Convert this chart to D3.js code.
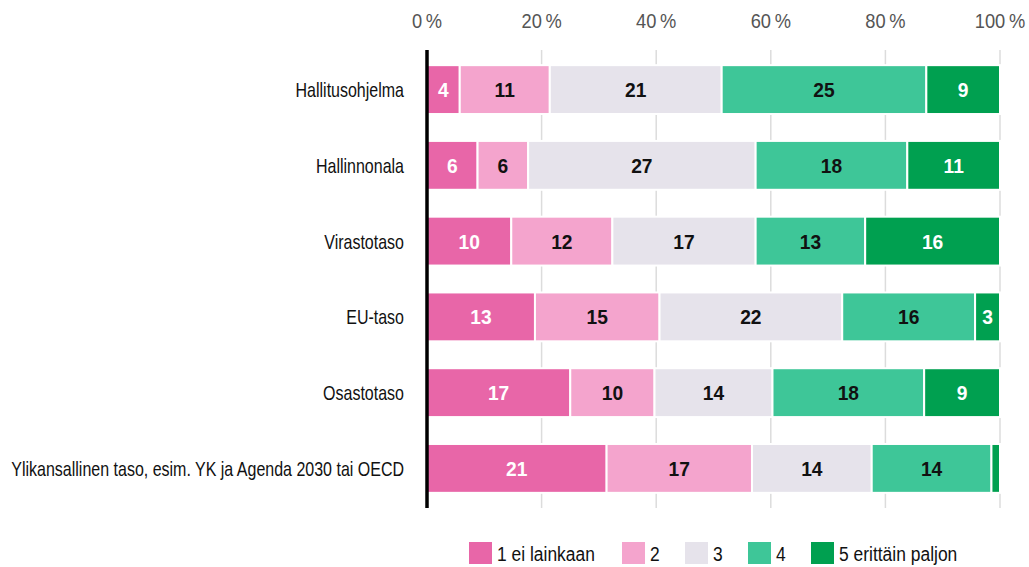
<!DOCTYPE html>
<html>
<head>
<meta charset="utf-8">
<script src="https://cdn.jsdelivr.net/npm/d3@7"></script>
<style>
  body { margin: 0; background: #fff; }
  text { font-family: "Liberation Sans", Arial, sans-serif; }
</style>
</head>
<body>
<script>
// categories, top to bottom
const categories = [
    'Hallitusohjelma',
    'Hallinnonala',
    'Virastotaso',
    'EU-taso',
    'Osastotaso',
    'Ylikansallinen taso, esim. YK ja Agenda 2030 tai OECD'
];

// answer counts per level, one array per series
const level1 = [4, 6, 10, 13, 17, 21];
const level2 = [11, 6, 12, 15, 10, 17];
const level3 = [21, 27, 17, 22, 14, 14];
const level4 = [25, 18, 13, 16, 18, 14];
const level5 = [9, 11, 16, 3, 9, 1];

const seriesNames = ['1 ei lainkaan', '2', '3', '4', '5 erittäin paljon'];
const seriesColors = ['#e866a8', '#f4a4cd', '#e6e3eb', '#3ec698', '#00a050'];
const labelColors = ['#fff', '#111', '#111', '#111', '#fff'];
const tickValues = [0, 0.2, 0.4, 0.6, 0.8, 1];

const width = 1029, height = 567;
const margin = { top: 50, right: 29, bottom: 59, left: 427 };

const svg = d3.select('body').append('svg')
    .attr('width', width)
    .attr('height', height);

// the reference uses a condensed face; squeeze a normal one horizontally
const probe = svg.append('text').style('font-size', '21px').text(categories[5]);
const sx = 393 / probe.node().getComputedTextLength();
probe.remove();
const place = (px, py, f = 1) => `translate(${px},${py}) scale(${sx * f},1)`;

// Build rows as proportions
const series = [level1, level2, level3, level4, level5];
const rows = categories.map((c, i) => {
    const row = { category: c };
    const total = d3.sum(series, s => s[i]);
    series.forEach((s, k) => { row['s' + k] = s[i]; });
    series.forEach((s, k) => { row['p' + k] = s[i] / total; });
    return row;
});

const x = d3.scaleLinear()
    .domain([0, 1])
    .range([margin.left, width - margin.right]);

const y = d3.scaleBand()
    .domain(categories)
    .range([margin.top, height - margin.bottom])
    .paddingInner(0.355)
    .paddingOuter(0.2);

// Gridlines
svg.append('g')
    .selectAll('line')
    .data(tickValues.slice(1))
    .enter().append('line')
    .attr('x1', d => x(d)).attr('x2', d => x(d))
    .attr('y1', margin.top).attr('y2', height - margin.bottom)
    .attr('stroke', '#dcdcdc')
    .attr('stroke-width', 1.5);

// Top axis labels
const xAxis = d3.axisTop(x)
    .tickValues(tickValues)
    .tickFormat(d => Math.round(d * 100) + '\u2009%')
    .tickSize(0)
    .tickPadding(0);
const ax = svg.append('g')
    .call(xAxis);
ax.select('.domain').remove();
ax.selectAll('.tick').attr('transform', null);
ax.selectAll('.tick text')
    .attr('y', null).attr('dy', null)
    .attr('transform', d => place(x(d), 28, 1.2))
    .attr('fill', '#555')
    .style('font-size', '20px');

const stack = d3.stack()
    .keys(seriesNames.map((_, k) => 'p' + k));
const stacked = stack(rows);

const groups = svg.append('g')
    .selectAll('g')
    .data(stacked)
    .enter().append('g')
    .attr('fill', (d, k) => seriesColors[k]);

groups.selectAll('rect')
    .data(d => d)
    .enter().append('rect')
    .attr('x', d => x(d[0]))
    .attr('y', d => y(d.data.category))
    .attr('width', d => Math.max(0, x(d[1]) - x(d[0])))
    .attr('height', y.bandwidth())
    .attr('stroke', '#fff')
    .attr('stroke-width', 2);

// Value labels (skip tiny segments)
groups.each(function(s, k) {
    d3.select(this).selectAll('text')
        .data(s.filter(d => d.data['s' + k] > 1))
        .enter().append('text')
        .attr('transform', d => place((x(d[0]) + x(d[1])) / 2, y(d.data.category) + y.bandwidth() / 2, 1.2))
        .attr('dy', '0.36em')
        .attr('text-anchor', 'middle')
        .attr('fill', labelColors[k])
        .style('font-size', '21px')
        .style('font-weight', 'bold')
        .text(d => d.data['s' + k]);
});

// Category labels
svg.append('g')
    .selectAll('text')
    .data(categories)
    .enter().append('text')
    .attr('transform', d => place(margin.left - 23, y(d) + y.bandwidth() / 2))
    .attr('dy', '0.36em')
    .attr('text-anchor', 'end')
    .attr('fill', '#111')
    .style('font-size', '21px')
    .text(d => d);

// Vertical baseline
svg.append('line')
    .attr('x1', margin.left).attr('x2', margin.left)
    .attr('y1', margin.top).attr('y2', height - margin.bottom)
    .attr('stroke', '#000')
    .attr('stroke-width', 3.5);

// Legend
const legendX = [469, 622, 685, 748, 811];
const legend = svg.append('g')
    .selectAll('g')
    .data(seriesNames)
    .enter().append('g')
    .attr('transform', (d, i) => `translate(${legendX[i]},542)`);
legend.append('rect')
    .attr('width', 23).attr('height', 22)
    .attr('fill', (d, i) => seriesColors[i]);
legend.append('text')
    .attr('transform', place(28, 11, 1.09))
    .attr('dy', '0.36em')
    .attr('fill', '#111')
    .style('font-size', '21px')
    .text(d => d);
</script>
</body>
</html>
